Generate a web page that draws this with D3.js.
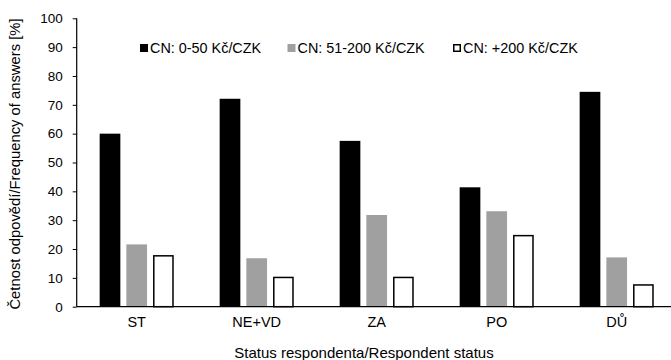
<!DOCTYPE html>
<html>
<head>
<meta charset="utf-8">
<script src="https://cdn.jsdelivr.net/npm/d3@7"></script>
<style>
  html, body { margin: 0; padding: 0; background: #fff; }
  svg { display: block; font-family: "Liberation Sans", Arial, sans-serif; }
</style>
</head>
<body>
<svg id="chart" width="671" height="360"></svg>
<script>
const categories = ["ST", "NE+VD", "ZA", "PO", "DŮ"];
const seriesNames = ["CN: 0-50 Kč/CZK", "CN: 51-200 Kč/CZK", "CN: +200 Kč/CZK"];
const low = [60, 72.1, 57.5, 41.4, 74.5];
const mid = [21.6, 16.8, 31.8, 33.1, 17.1];
const high = [17.9, 10.4, 10.4, 24.9, 7.8];
const yTicks = [0, 10, 20, 30, 40, 50, 60, 70, 80, 90, 100];
const fills = ["#000000", "#a0a0a0", "#ffffff"];
const strokes = ["none", "none", "#000000"];

const seriesValues = [low, mid, high];
const data = categories.map((c, i) => ({ cat: c, vals: seriesNames.map((s, j) => ({ s, v: seriesValues[j][i], j })) }));

const svg = d3.select("#chart");
const y = d3.scaleLinear().domain([0, 100]).range([306.7, 18.3]);
const x0 = d3.scaleBand().domain(categories).range([76.7, 676.7]).padding(0);
const x1 = d3.scaleBand().domain(seriesNames).range([0, x0.bandwidth()]).paddingInner(0.225).paddingOuter(0.86);

// bars
const g = svg.append("g");
g.selectAll("g.grp").data(data).join("g")
  .attr("transform", d => `translate(${x0(d.cat)},0)`)
  .selectAll("rect").data(d => d.vals).join("rect")
  .attr("x", d => x1(d.s) + (d.j === 2 ? 0.75 : 0))
  .attr("width", d => x1.bandwidth() - (d.j === 2 ? 1.5 : 0))
  .attr("y", d => y(d.v) + (d.j === 2 ? 0.75 : 0))
  .attr("height", d => y(0) - y(d.v) - (d.j === 2 ? 0.75 : 0))
  .attr("fill", d => fills[d.j])
  .attr("stroke", d => strokes[d.j])
  .attr("stroke-width", 1.5);

// y axis
const yAxis = d3.axisLeft(y).tickValues(yTicks).tickSize(4).tickPadding(10);
const ya = svg.append("g").attr("transform", "translate(76.7,0)").call(yAxis);
ya.select(".domain").attr("stroke", "#000").attr("stroke-width", 1.2).attr("d", `M0,${y(100)}V${y(0)}`);
ya.selectAll(".tick line").attr("stroke", "#000").attr("stroke-width", 1);
ya.selectAll(".tick text").attr("font-size", 13.5).attr("fill", "#000")
  .attr("font-family", "Liberation Sans, Arial, sans-serif");

// x axis
const xAxis = d3.axisBottom(x0).tickSize(0).tickPadding(10);
const xa = svg.append("g").attr("transform", `translate(0,${y(0)})`).call(xAxis);
xa.select(".domain").attr("stroke", "#000").attr("stroke-width", 1.2).attr("d", `M76.7,0H671`);
xa.selectAll(".tick text").attr("font-size", 14.5).attr("fill", "#000")
  .attr("font-family", "Liberation Sans, Arial, sans-serif");

// axis titles
svg.append("text").attr("x", 364).attr("y", 358).attr("text-anchor", "middle")
  .attr("font-size", 15).attr("fill", "#000").text("Status respondenta/Respondent status");
svg.append("text").attr("transform", "translate(20,164) rotate(-90)").attr("text-anchor", "middle")
  .attr("font-size", 14.8).attr("fill", "#000").text("Četnost odpovědí/Frequency of answers [%]");

// legend
const legendX = [140, 287.5, 453];
const lg = svg.append("g");
seriesNames.forEach((s, j) => {
  lg.append("rect").attr("x", legendX[j] + (j === 2 ? 0.75 : 0)).attr("y", 44 + (j === 2 ? 0.75 : 0))
    .attr("width", 8 - (j === 2 ? 1.5 : 0)).attr("height", 8 - (j === 2 ? 1.5 : 0))
    .attr("fill", fills[j]).attr("stroke", strokes[j]).attr("stroke-width", 1.5);
  lg.append("text").attr("x", legendX[j] + 10).attr("y", 53).attr("font-size", 14.4)
    .attr("fill", "#000").text(s);
});
</script>
</body>
</html>
